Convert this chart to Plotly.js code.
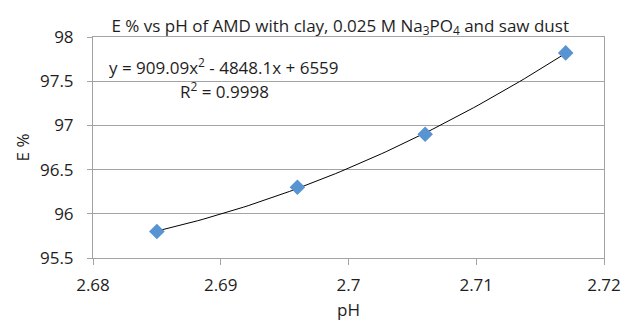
<!DOCTYPE html>
<html>
<head>
<meta charset="utf-8">
<script src="https://cdn.plot.ly/plotly-3.0.1.min.js"></script>
<style>html,body{margin:0;padding:0;background:#fff;}#chart{width:622px;height:323px;}</style>
</head>
<body>
<div id="chart"></div>
<script>
// Data
const pH = [2.685, 2.696, 2.706, 2.717];
const ePercent = [95.8, 96.3, 96.9, 97.82];
const xTickVals = [2.68, 2.69, 2.70, 2.71, 2.72];
const xTickText = ['2.68', '2.69', '2.7', '2.71', '2.72'];
const yTickVals = [95.5, 96, 96.5, 97, 97.5, 98];
const yTickText = ['95.5', '96', '96.5', '97', '97.5', '98'];
const equationText = 'y = 909.09x<sup>2</sup> - 4848.1x + 6559';
const r2Text = 'R<sup>2</sup> = 0.9998';
const titleText = 'E % vs pH of AMD with clay, 0.025 M Na<sub>3</sub>PO<sub>4</sub> and saw dust';

// Polynomial (order 2) least-squares trendline fitted to the data, as the spreadsheet does
function quadFit(xs, ys) {
  const n = xs.length;
  const mx = xs.reduce((a, b) => a + b, 0) / n;
  const u = xs.map(x => x - mx);
  let S = [0, 0, 0, 0, 0], T = [0, 0, 0];
  for (let i = 0; i < n; i++) {
    for (let k = 0; k < 5; k++) S[k] += Math.pow(u[i], k);
    for (let k = 0; k < 3; k++) T[k] += ys[i] * Math.pow(u[i], k);
  }
  const A = [[S[0], S[1], S[2]], [S[1], S[2], S[3]], [S[2], S[3], S[4]]];
  const b = T.slice();
  for (let c = 0; c < 3; c++) {
    for (let r = c + 1; r < 3; r++) {
      const f = A[r][c] / A[c][c];
      for (let k = c; k < 3; k++) A[r][k] -= f * A[c][k];
      b[r] -= f * b[c];
    }
  }
  const coef = [0, 0, 0];
  for (let r = 2; r >= 0; r--) {
    let s = b[r];
    for (let k = r + 1; k < 3; k++) s -= A[r][k] * coef[k];
    coef[r] = s / A[r][r];
  }
  return x => coef[0] + coef[1] * (x - mx) + coef[2] * (x - mx) * (x - mx);
}
const fit = quadFit(pH, ePercent);
const trendX = [], trendY = [];
const steps = 80;
for (let i = 0; i <= steps; i++) {
  const x = pH[0] + (pH[pH.length - 1] - pH[0]) * i / steps;
  trendX.push(x); trendY.push(fit(x));
}

const font = 'Open Sans, Noto Sans, sans-serif';
const txt = '#1e1e1e';
const axisGrey = '#a3a3a3';
const traces = [
  {x: trendX, y: trendY, mode: 'lines', type: 'scatter',
   line: {color: '#000000', width: 1}, hoverinfo: 'skip', showlegend: false},
  {x: pH, y: ePercent, mode: 'markers', type: 'scatter',
   marker: {symbol: 'diamond', size: 12, color: '#5893D2', line: {width: 0}}, showlegend: false}
];

const layout = {
  width: 622, height: 323,
  margin: {l: 93, r: 18, t: 37, b: 65},
  paper_bgcolor: '#ffffff', plot_bgcolor: '#ffffff',
  font: {family: font, size: 17, color: txt},
  title: {text: titleText, font: {family: font, size: 17, color: txt},
          x: 0.547, xanchor: 'center', y: 0.92, yanchor: 'middle'},
  xaxis: {range: [2.68, 2.72], tickmode: 'array', tickvals: xTickVals, ticktext: xTickText,
          showgrid: false, zeroline: false, showline: true, linecolor: axisGrey, linewidth: 1,
          mirror: true, ticks: 'outside', ticklen: 6, tickcolor: axisGrey, ticklabelstandoff: 6,
          tickfont: {family: font, size: 17, color: txt},
          title: {text: 'pH', font: {family: font, size: 17, color: txt}, standoff: 8}},
  yaxis: {range: [95.5, 98], tickmode: 'array', tickvals: yTickVals, ticktext: yTickText,
          showgrid: true, gridcolor: axisGrey, gridwidth: 1, zeroline: false,
          showline: true, linecolor: axisGrey, linewidth: 1, mirror: true,
          ticks: 'outside', ticklen: 5, tickcolor: axisGrey, ticklabelstandoff: 10,
          tickfont: {family: font, size: 17, color: txt},
          title: {text: 'E %', font: {family: font, size: 17, color: txt}, standoff: 6}},
  annotations: [
    {text: equationText, xref: 'paper', yref: 'paper', x: 0.027, y: 0.868,
     xanchor: 'left', yanchor: 'middle', showarrow: false,
     font: {family: font, size: 17, color: txt}},
    {text: r2Text, xref: 'paper', yref: 'paper', x: 0.166, y: 0.76,
     xanchor: 'left', yanchor: 'middle', showarrow: false,
     font: {family: font, size: 17, color: txt}}
  ]
};

Plotly.newPlot('chart', traces, layout, {displayModeBar: false, staticPlot: true});
</script>
</body>
</html>
